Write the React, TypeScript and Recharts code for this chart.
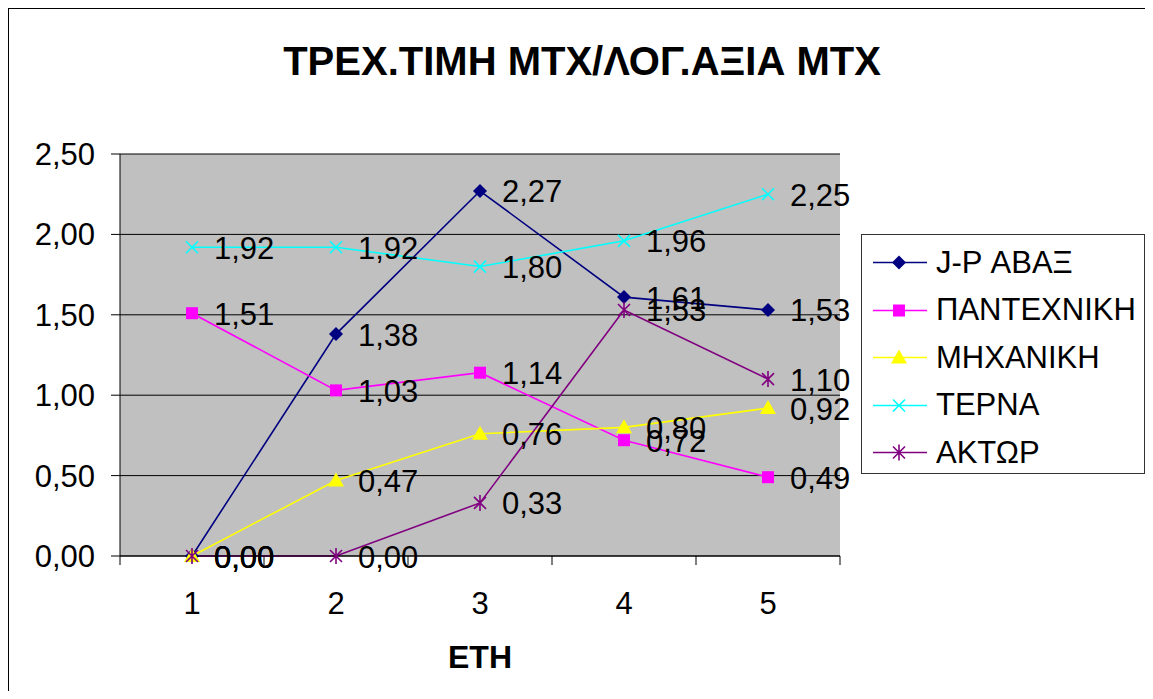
import { LineChart, Line, XAxis, YAxis, CartesianGrid, Legend, LabelList } from 'recharts';

const FONT = 'Arial, "Liberation Sans", sans-serif';

const years = ['1', '2', '3', '4', '5'];
const abax = [0, 1.38, 2.27, 1.61, 1.53];
const pantechniki = [1.51, 1.03, 1.14, 0.72, 0.49];
const michaniki = [0, 0.47, 0.76, 0.8, 0.92];
const terna = [1.92, 1.92, 1.8, 1.96, 2.25];
const aktor = [0, 0, 0.33, 1.53, 1.1];
const yTicks = [0, 0.5, 1, 1.5, 2, 2.5];

type Shape = 'diamond' | 'square' | 'triangle' | 'cross' | 'star';

const series: { key: string; name: string; values: number[]; color: string; shape: Shape }[] = [
  { key: 'abax', name: 'J-P ΑΒΑΞ', values: abax, color: '#000080', shape: 'diamond' },
  { key: 'pantechniki', name: 'ΠΑΝΤΕΧΝΙΚΗ', values: pantechniki, color: '#FF00FF', shape: 'square' },
  { key: 'michaniki', name: 'ΜΗΧΑΝΙΚΗ', values: michaniki, color: '#FFFF00', shape: 'triangle' },
  { key: 'terna', name: 'ΤΕΡΝΑ', values: terna, color: '#00FFFF', shape: 'cross' },
  { key: 'aktor', name: 'ΑΚΤΩΡ', values: aktor, color: '#800080', shape: 'star' },
];

const data = years.map((year, i) => {
  const row: Record<string, string | number> = { year };
  series.forEach((s) => (row[s.key] = s.values[i]));
  return row;
});

const W = 1142;
const H = 682;
const PLOT_LEFT = 111;
const PLOT_W = 720;
const BAND = PLOT_W / years.length;

const fmt = (v: number) => v.toFixed(2).replace('.', ',');

function Marker({ shape, color, cx, cy }: { shape: Shape; color: string; cx: number; cy: number }) {
  switch (shape) {
    case 'diamond':
      return <polygon points={`${cx},${cy - 7} ${cx + 7},${cy} ${cx},${cy + 7} ${cx - 7},${cy}`} fill={color} />;
    case 'square':
      return <rect x={cx - 6} y={cy - 6} width={12} height={12} fill={color} />;
    case 'triangle':
      return <polygon points={`${cx},${cy - 8} ${cx + 8},${cy + 6} ${cx - 8},${cy + 6}`} fill={color} />;
    case 'cross':
      return (
        <path d={`M${cx - 6},${cy - 6}L${cx + 6},${cy + 6}M${cx - 6},${cy + 6}L${cx + 6},${cy - 6}`} stroke={color} strokeWidth={1.6} />
      );
    default:
      return (
        <path
          d={`M${cx - 6},${cy - 6}L${cx + 6},${cy + 6}M${cx - 6},${cy + 6}L${cx + 6},${cy - 6}M${cx},${cy - 8}L${cx},${cy + 8}`}
          stroke={color}
          strokeWidth={1.6}
        />
      );
  }
}

// category labels centred in each band, tick marks on the band edges
function YearTick(props: any) {
  const { x, y, payload, index } = props;
  const half = BAND / 2;
  return (
    <g>
      <line x1={x - half} x2={x - half} y1={y} y2={y + 9} stroke="#000" />
      {index === years.length - 1 && <line x1={x + half} x2={x + half} y1={y} y2={y + 9} stroke="#000" />}
      <text x={x} y={y + 47} textAnchor="middle" dominantBaseline="central" fontSize={31} fontFamily={FONT} fill="#000">
        {payload.value}
      </text>
    </g>
  );
}

function ValueLabel(props: any) {
  const { x, y, value } = props;
  return (
    <text x={x + 22} y={y + 1} dominantBaseline="central" fontSize={31} fontFamily={FONT} fill="#000">
      {fmt(value)}
    </text>
  );
}

function LegendBox() {
  return (
    <div
      style={{
        width: 284,
        height: 240,
        border: '1px solid #333',
        background: '#fff',
        paddingTop: 4,
        boxSizing: 'border-box',
        fontFamily: FONT,
        fontSize: 31,
      }}
    >
      {series.map((s) => (
        <div key={s.key} style={{ height: 47.5, display: 'flex', alignItems: 'center' }}>
          <svg width={74} height={47} style={{ flex: 'none' }}>
            <line x1={11} x2={65} y1={23.5} y2={23.5} stroke={s.color} strokeWidth={1.6} />
            <Marker shape={s.shape} color={s.color} cx={37} cy={23.5} />
          </svg>
          <span style={{ whiteSpace: 'nowrap' }}>{s.name}</span>
        </div>
      ))}
    </div>
  );
}

export default function App() {
  return (
    <div
      style={{
        position: 'relative',
        width: W,
        height: H,
        border: '1px solid #000',
        borderBottom: 'none',
        background: '#fff',
      }}
    >
      <div
        style={{
          position: 'absolute',
          left: 573,
          top: 52,
          transform: 'translate(-50%, -50%)',
          whiteSpace: 'nowrap',
          fontFamily: FONT,
          fontWeight: 'bold',
          fontSize: 40,
        }}
      >
        ΤΡΕΧ.ΤΙΜΗ ΜΤΧ/ΛΟΓ.ΑΞΙΑ ΜΤΧ
      </div>
      <LineChart width={W} height={H} data={data} margin={{ top: 145, right: W - PLOT_LEFT - PLOT_W, left: 0, bottom: 0 }}>
        <CartesianGrid vertical={false} stroke="#000" fill="#C0C0C0" fillOpacity={1} />
        <XAxis
          dataKey="year"
          padding={{ left: BAND / 2, right: BAND / 2 }}
          height={135}
          axisLine={{ stroke: '#000' }}
          tickLine={false}
          tickSize={0}
          tickMargin={0}
          tick={<YearTick />}
          interval={0}
          label={() => (
            <text
              x={PLOT_LEFT + PLOT_W / 2}
              y={648}
              textAnchor="middle"
              dominantBaseline="central"
              fontSize={32}
              fontWeight="bold"
              fontFamily={FONT}
              fill="#000"
            >
              ΕΤΗ
            </text>
          )}
        />
        {/* grey frame on the top and right of the plot area */}
        <XAxis xAxisId="top" orientation="top" dataKey="year" height={0} tick={false} tickLine={false} axisLine={{ stroke: '#808080', strokeWidth: 1.5 }} />
        <YAxis yAxisId="right" orientation="right" width={0} tick={false} tickLine={false} axisLine={{ stroke: '#808080', strokeWidth: 1.5 }} />
        <YAxis
          width={PLOT_LEFT}
          domain={[0, 2.5]}
          ticks={yTicks}
          interval={0}
          tickFormatter={fmt}
          axisLine={{ stroke: '#000' }}
          tickLine={{ stroke: '#000' }}
          tickSize={9}
          tickMargin={16}
          tick={{ fontSize: 31, fontFamily: FONT, fill: '#000' }}
        />
        <Legend
          layout="vertical"
          align="center"
          verticalAlign="middle"
          wrapperStyle={{ left: 852, top: 225, width: 284, height: 240 }}
          content={() => <LegendBox />}
        />
        {series.map((s) => (
          <Line
            key={s.key}
            dataKey={s.key}
            name={s.name}
            stroke={s.color}
            strokeWidth={1.6}
            isAnimationActive={false}
            dot={(p: any) => (
              <g key={`${s.key}-${p.index}`}>
                <Marker shape={s.shape} color={s.color} cx={p.cx} cy={p.cy} />
              </g>
            )}
            activeDot={false}
          >
            <LabelList dataKey={s.key} content={<ValueLabel />} />
          </Line>
        ))}
      </LineChart>
    </div>
  );
}
